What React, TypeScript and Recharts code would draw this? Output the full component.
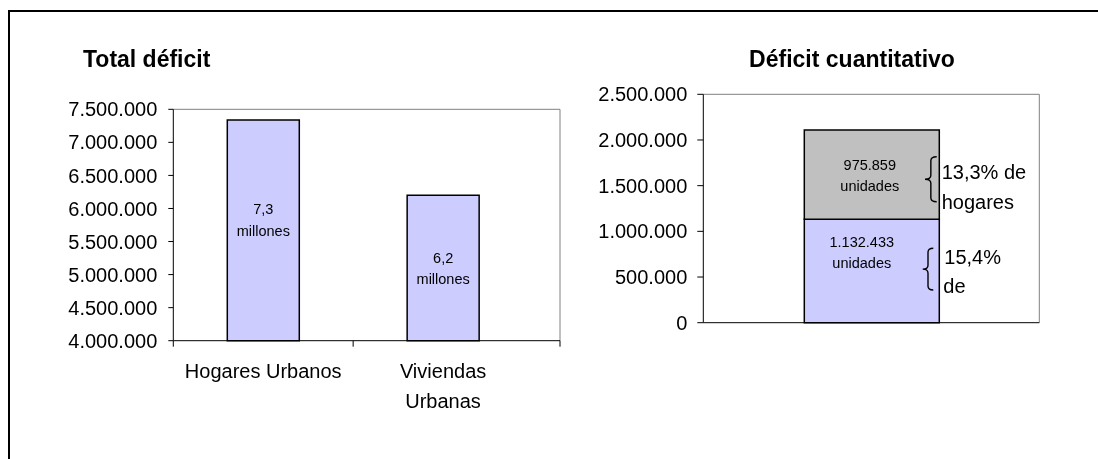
import React from "react";
import { BarChart, Bar, XAxis, YAxis, CartesianGrid, LabelList } from "recharts";

const FONT = "'Liberation Sans', Arial, sans-serif";

// Total déficit
const totalCategories = ["Hogares Urbanos", "Viviendas Urbanas"];
const totalValues = [7340000, 6200000];
const totalTicks = [4000000, 4500000, 5000000, 5500000, 6000000, 6500000, 7000000, 7500000];

// Déficit cuantitativo (stacked)
const quantCategories = ["Déficit cuantitativo"];
const quantLower = [1132433];
const quantUpper = [975859];
const quantTicks = [0, 500000, 1000000, 1500000, 2000000, 2500000];
const upperShare = ["13,3% de", "hogares"];
const lowerShare = ["15,4%", "de"];

const totalData = totalCategories.map((name, i) => ({ name, value: totalValues[i] }));
const quantData = quantCategories.map((name, i) => ({ name, lower: quantLower[i], upper: quantUpper[i] }));

const fmt = (v: number) => String(Math.round(v)).replace(/\B(?=(\d{3})+(?!\d))/g, ".");

const topBorder = ({ offset }: any) => [offset.top];
const rightBorder = ({ offset }: any) => [offset.left + offset.width];

const TOTAL_PAD_RIGHT = 27;
// first label sits a bit higher, like the original
const totalLabelShift = [-11, 0];

// wrap words like Excel does, ~15 characters per line
const wrap = (label: string, max = 15) => {
  const lines: string[] = [];
  let cur = "";
  label.split(" ").forEach((w) => {
    const next = cur ? cur + " " + w : w;
    if (next.length > max && cur) {
      lines.push(cur);
      cur = w;
    } else cur = next;
  });
  if (cur) lines.push(cur);
  return lines;
};

const twoLines = (cx: number, cy: number, a: string, b: string) => (
  <text textAnchor="middle" fontSize={14.5} fontFamily={FONT} fill="#000">
    <tspan x={cx} y={cy - 5}>{a}</tspan>
    <tspan x={cx} y={cy + 16.5}>{b}</tspan>
  </text>
);

const TotalLabel = (p: any) => {
  const cx = Number(p.x) + Number(p.width) / 2;
  const cy = Number(p.y) + Number(p.height) / 2 + (totalLabelShift[p.index] ?? 0);
  const v = Number(p.value);
  return twoLines(cx, cy, (v / 1e6).toFixed(1).replace(".", ","), "millones");
};

const quantLabel = (dx: number, dy: number) => (p: any) => {
  const cx = Number(p.x) + Number(p.width) / 2 + dx;
  const cy = Number(p.y) + Number(p.height) / 2 + dy;
  return twoLines(cx, cy, fmt(Number(p.value)), "unidades");
};

const CategoryTick = (props: any) => {
  const { x, y, payload, index } = props;
  const half = payload?.offset ?? 0;
  const axisY = y - 23;
  const lines = wrap(String(payload.value));
  const last = index === totalCategories.length - 1;
  return (
    <g>
      <line x1={x - half} x2={x - half} y1={axisY} y2={axisY + 6} stroke="#000" />
      {last && (
        <line
          x1={x + half + TOTAL_PAD_RIGHT}
          x2={x + half + TOTAL_PAD_RIGHT}
          y1={axisY}
          y2={axisY + 6}
          stroke="#000"
        />
      )}
      <text textAnchor="middle" fontSize={20} fontFamily={FONT} fill="#000">
        {lines.map((l, i) => (
          <tspan key={i} x={x} y={y + 14.5 + i * 30}>
            {l}
          </tspan>
        ))}
      </text>
    </g>
  );
};

const brace = (xr: number, xl: number, y0: number, y1: number) => {
  const xm = (xr + xl) / 2;
  const ym = (y0 + y1) / 2;
  const r = 4;
  return `M${xr},${y0} Q${xm},${y0} ${xm},${y0 + r} L${xm},${ym - r} Q${xm},${ym} ${xl},${ym} Q${xm},${ym} ${xm},${ym + r} L${xm},${y1 - r} Q${xm},${y1} ${xr},${y1}`;
};

const tickStyle = { fill: "#000", fontSize: 20, fontFamily: FONT };

export default function App() {
  return (
    <div style={{ position: "relative", width: 1090, height: 443, fontFamily: FONT, background: "#fff" }}>
      <div
        style={{
          position: "fixed",
          left: 8,
          top: 10,
          width: 2000,
          height: 2000,
          borderTop: "2px solid #000",
          borderLeft: "2px solid #000",
          pointerEvents: "none",
        }}
      />
      <div style={{ position: "absolute", left: 0, top: 0 }}>
        <BarChart width={560} height={430} data={totalData} barSize={72} margin={{ top: 101.3, right: 8, bottom: 0, left: 0 }}>
          <CartesianGrid
            stroke="#808080"
            horizontalCoordinatesGenerator={topBorder}
            verticalCoordinatesGenerator={rightBorder}
          />
          <XAxis
            dataKey="name"
            height={97.3}
            interval={0}
            padding={{ left: 0, right: TOTAL_PAD_RIGHT }}
            tickSize={0}
            tickMargin={23}
            tickLine={false}
            axisLine={{ stroke: "#000" }}
            tick={<CategoryTick />}
          />
          <YAxis
            width={165.3}
            domain={[4000000, 7500000]}
            ticks={totalTicks}
            interval={0}
            tickFormatter={fmt}
            tickSize={5}
            tickMargin={11}
            axisLine={{ stroke: "#000" }}
            tickLine={{ stroke: "#000" }}
            tick={tickStyle}
          />
          <Bar dataKey="value" fill="#CCCCFF" stroke="#000" strokeWidth={1.5} isAnimationActive={false}>
            <LabelList dataKey="value" content={TotalLabel} />
          </Bar>
        </BarChart>
      </div>
      <div style={{ position: "absolute", left: 560, top: 0 }}>
        <BarChart width={480} height={340} data={quantData} barSize={135} margin={{ top: 86.3, right: 8.7, bottom: 0, left: 0 }}>
          <CartesianGrid
            stroke="#808080"
            horizontalCoordinatesGenerator={topBorder}
            verticalCoordinatesGenerator={rightBorder}
          />
          <XAxis dataKey="name" height={25.3} tick={false} tickLine={false} axisLine={{ stroke: "#000" }} />
          <YAxis
            width={135.3}
            domain={[0, 2500000]}
            ticks={quantTicks}
            interval={0}
            tickFormatter={fmt}
            tickSize={6}
            tickMargin={10}
            axisLine={{ stroke: "#000" }}
            tickLine={{ stroke: "#000" }}
            tick={tickStyle}
          />
          <Bar dataKey="lower" stackId="q" fill="#CCCCFF" stroke="#000" strokeWidth={1.5} isAnimationActive={false}>
            <LabelList dataKey="lower" content={quantLabel(-10, -19.3)} />
          </Bar>
          <Bar dataKey="upper" stackId="q" fill="#C0C0C0" stroke="#000" strokeWidth={1.5} isAnimationActive={false}>
            <LabelList dataKey="upper" content={quantLabel(-2, 0)} />
          </Bar>
        </BarChart>
      </div>
      <svg
        width={1090}
        height={443}
        style={{ position: "absolute", left: 0, top: 0, pointerEvents: "none" }}
        fontFamily={FONT}
      >
        <text x={75} y={58.5} fontSize={23} fontWeight="bold" fill="#000">Total déficit</text>
        <text x={844} y={58.5} fontSize={23} fontWeight="bold" fill="#000" textAnchor="middle">Déficit cuantitativo</text>
        <path d={brace(928.7, 917, 148.7, 193.7)} fill="none" stroke="#000" strokeWidth={1.4} />
        <path d={brace(925.3, 914.7, 240.3, 282)} fill="none" stroke="#000" strokeWidth={1.4} />
        <text fontSize={20} fill="#000">
          <tspan x={933.7} y={171}>{upperShare[0]}</tspan>
          <tspan x={933.7} y={201}>{upperShare[1]}</tspan>
        </text>
        <text fontSize={20} fill="#000">
          <tspan x={936.3} y={255.5}>{lowerShare[0]}</tspan>
          <tspan x={935.3} y={285}>{lowerShare[1]}</tspan>
        </text>
      </svg>
    </div>
  );
}
